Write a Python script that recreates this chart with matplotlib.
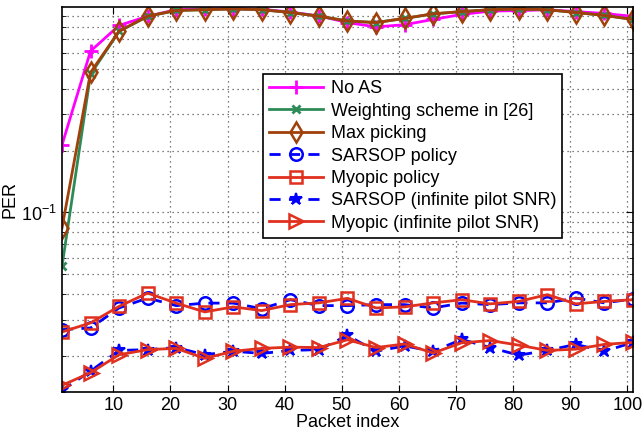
import matplotlib
matplotlib.use("Agg")
import matplotlib.pyplot as plt
import numpy as np
from matplotlib.ticker import LogLocator, NullFormatter, FixedLocator, LogFormatterSciNotation

plt.rcParams['font.family'] = ['Liberation Sans', 'DejaVu Sans']
plt.rcParams['mathtext.fontset'] = 'custom'
plt.rcParams['mathtext.rm'] = 'Liberation Sans'

packets = list(range(1, 102, 5))

no_as = [0.213, 0.61, 0.813, 0.902, 0.97, 0.98, 0.982, 0.975, 0.945, 0.905, 0.84,
         0.80, 0.82, 0.87, 0.92, 0.955, 0.96, 0.97, 0.95, 0.93, 0.90]
weighting = [0.0546, 0.47, 0.76, 0.90, 0.962, 0.97, 0.979, 0.97, 0.94, 0.902, 0.855,
             0.84, 0.88, 0.925, 0.95, 0.97, 0.978, 0.97, 0.94, 0.91, 0.87]
max_picking = [0.084, 0.48, 0.763, 0.902, 0.962, 0.97, 0.979, 0.97, 0.94, 0.902, 0.855,
               0.84, 0.88, 0.927, 0.95, 0.97, 0.978, 0.97, 0.94, 0.91, 0.87]
sarsop = [0.0269, 0.0274, 0.0343, 0.0383, 0.0352, 0.0362, 0.0362, 0.0340, 0.0376, 0.0352, 0.0352,
          0.0356, 0.0356, 0.0343, 0.0362, 0.0356, 0.0363, 0.0363, 0.0383, 0.0363, 0.0379]
myopic = [0.0262, 0.0290, 0.0349, 0.0405, 0.0362, 0.0328, 0.0347, 0.0333, 0.0356, 0.0363, 0.0382,
          0.0343, 0.0347, 0.0363, 0.0376, 0.0359, 0.0369, 0.0398, 0.0359, 0.0369, 0.0376]
sarsop_inf = [0.0136, 0.0169, 0.0213, 0.0215, 0.0220, 0.0203, 0.0211, 0.0206, 0.0213, 0.0215, 0.0252,
              0.0211, 0.0224, 0.0211, 0.0241, 0.0220, 0.0202, 0.0213, 0.0228, 0.0211, 0.0233]
myopic_inf = [0.0144, 0.0166, 0.0203, 0.0215, 0.0218, 0.0195, 0.0211, 0.0218, 0.0221, 0.0220, 0.0240,
              0.0220, 0.0229, 0.0207, 0.0232, 0.0238, 0.0226, 0.0213, 0.0216, 0.0228, 0.0233]

magenta = '#ff00ff'
green = '#2e8b57'
brown = '#a0400a'
blue = '#0000ff'
red = '#e0301e'

fig = plt.figure(figsize=(6.43, 4.32), dpi=100)
ax = fig.add_axes([0.0964, 0.0926, 0.888, 0.8912])

lw = 2
ax.plot(packets, no_as, color=magenta, lw=lw, marker='+', ms=10, mew=2, label='No AS')
ax.plot(packets, weighting, color=green, lw=lw, marker='x', ms=6, mew=2,
        label='Weighting scheme in [26]')
ax.plot(packets, max_picking, color=brown, lw=lw, marker='d', ms=10, mew=1.8,
        mfc='none', label='Max picking')
ax.plot(packets, sarsop, color=blue, lw=lw, ls=(0, (4, 3)), marker='o', ms=9, mew=1.8,
        mfc='none', label='SARSOP policy')
ax.plot(packets, myopic, color=red, lw=lw, marker='s', ms=8, mew=1.8,
        mfc='none', label='Myopic policy')
ax.plot(packets, sarsop_inf, color=blue, lw=lw, ls=(0, (4, 3)), marker='*', ms=9, mew=1.5,
        label='SARSOP (infinite pilot SNR)')
ax.plot(packets, myopic_inf, color=red, lw=lw, marker='>', ms=10, mew=1.8,
        mfc='none', label='Myopic (infinite pilot SNR)')

ax.set_yscale('log')
ax.set_xlim(1, 101)
ax.set_ylim(0.01337, 1.0)
ax.set_xticks(range(10, 101, 10))
ax.yaxis.set_major_locator(FixedLocator([0.1]))
ax.yaxis.set_minor_locator(LogLocator(base=10, subs=np.arange(2, 10), numticks=10))
ax.yaxis.set_minor_formatter(NullFormatter())
ax.yaxis.set_major_formatter(LogFormatterSciNotation())

grid_style = dict(ls=(0, (1, 3)), color='#555555', lw=0.9)
ax.grid(True, which='major', **grid_style)
ax.grid(True, which='minor', axis='y', **grid_style)
ax.tick_params(which='both', direction='in', top=True, right=True, labelsize=13)
ax.tick_params(which='major', length=5)
ax.tick_params(which='minor', length=3)
for s in ax.spines.values():
    s.set_linewidth(1.2)

ax.set_xlabel('Packet index', fontsize=13, labelpad=0)
ax.set_ylabel('PER', fontsize=13, labelpad=2)

leg = ax.legend(loc='upper left', bbox_to_anchor=(0.352, 0.826), fontsize=13,
                frameon=True, fancybox=False, edgecolor='black', framealpha=1,
                handlelength=3.0, labelspacing=0.3, borderpad=0.35, handletextpad=0.4,
                borderaxespad=0)
leg.get_frame().set_linewidth(1.2)

fig.savefig('out.png', dpi=100)
